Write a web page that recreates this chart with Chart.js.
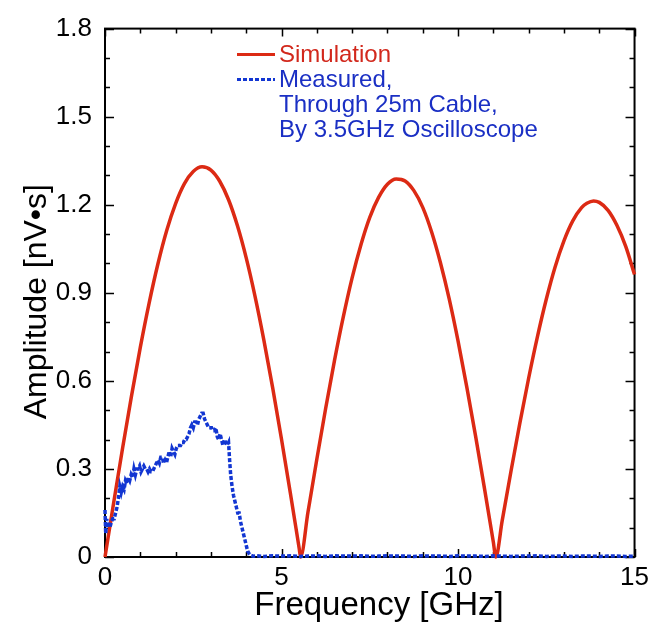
<!DOCTYPE html>
<html>
<head>
<meta charset="utf-8">
<script src="https://cdn.jsdelivr.net/npm/chart.js@4/dist/chart.umd.min.js"></script>
<style>
  body { margin: 0; background: #fff; }
  canvas { display: block; }
</style>
</head>
<body>
<canvas id="myChart" width="654" height="627"></canvas>
<script>
// simulated amplitude [nV*s] vs frequency [GHz]
var simFreq = [0, 0.25, 0.5, 0.75, 1, 1.25, 1.5, 1.75, 2, 2.25, 2.5, 2.75, 3, 3.25, 3.5, 3.75, 4, 4.25, 4.5, 4.75, 5, 5.25, 5.5, 5.54,
  5.75, 6, 6.25, 6.5, 6.75, 7, 7.25, 7.5, 7.75, 8, 8.25, 8.5, 8.75, 9, 9.25, 9.5, 9.75, 10, 10.25, 10.5, 10.75, 11, 11.07,
  11.25, 11.5, 11.75, 12, 12.25, 12.5, 12.75, 13, 13.25, 13.5, 13.65, 13.84, 14, 14.25, 14.5, 14.75, 15];
var simAmp = [0, 0.188, 0.372, 0.548, 0.714, 0.865, 0.999, 1.113, 1.204, 1.272, 1.313, 1.329, 1.318, 1.280, 1.217, 1.129, 1.019, 0.888, 0.739, 0.576, 0.401, 0.218, 0.030, 0,
  0.153, 0.333, 0.506, 0.669, 0.818, 0.951, 1.064, 1.157, 1.225, 1.270, 1.288, 1.281, 1.248, 1.191, 1.108, 1.003, 0.879, 0.736, 0.578, 0.410, 0.233, 0.051, 0,
  0.123, 0.292, 0.455, 0.609, 0.751, 0.878, 0.988, 1.077, 1.145, 1.190, 1.205, 1.213, 1.208, 1.181, 1.130, 1.058, 0.962];

// measured through 25m cable
var measFreq = [0, 0.02, 0.05, 0.08, 0.11, 0.14, 0.18, 0.22, 0.26, 0.30, 0.34, 0.38, 0.42, 0.46, 0.50, 0.54, 0.58, 0.62, 0.66, 0.70,
  0.74, 0.78, 0.82, 0.86, 0.90, 0.94, 0.98, 1.02, 1.06, 1.10, 1.14, 1.18, 1.22, 1.26, 1.30, 1.34, 1.38, 1.42, 1.46, 1.50,
  1.54, 1.58, 1.62, 1.66, 1.70, 1.74, 1.78, 1.82, 1.86, 1.90, 1.94, 1.98, 2.02, 2.06, 2.10, 2.14, 2.18, 2.22, 2.26, 2.30,
  2.34, 2.38, 2.42, 2.46, 2.50, 2.54, 2.58, 2.62, 2.66, 2.70, 2.74, 2.78, 2.82, 2.86, 2.90, 2.94, 2.98, 3.02, 3.06, 3.10,
  3.14, 3.18, 3.22, 3.26, 3.30, 3.34, 3.38, 3.42, 3.46, 3.50, 3.53, 3.56, 3.60, 3.64, 3.68, 3.72, 3.76, 3.80, 3.84, 3.88,
  3.92, 3.96, 4.00, 4.04, 4.08, 4.12, 4.20, 4.30, 4.50, 4.75, 5.00, 5.25, 5.50, 5.75, 6.00, 6.25, 6.50, 6.75, 7.00, 7.25,
  7.50, 7.75, 8.00, 8.25, 8.50, 8.75, 9.00, 9.25, 9.50, 9.75, 10.00, 10.25, 10.50, 10.75, 11.00, 11.25, 11.50, 11.75, 12.00, 12.25,
  12.50, 12.75, 13.00, 13.25, 13.50, 13.75, 14.00, 14.25, 14.50, 14.75, 15.00];
var measAmp = [0.16, 0.08, 0.13, 0.10, 0.12, 0.10, 0.12, 0.13, 0.13, 0.15, 0.17, 0.20, 0.24, 0.22, 0.24, 0.23, 0.26, 0.25, 0.27, 0.26,
  0.28, 0.27, 0.30, 0.28, 0.30, 0.30, 0.31, 0.29, 0.30, 0.31, 0.30, 0.30, 0.29, 0.30, 0.29, 0.29, 0.30, 0.31, 0.32, 0.33,
  0.32, 0.34, 0.34, 0.32, 0.33, 0.32, 0.34, 0.36, 0.34, 0.37, 0.36, 0.35, 0.37, 0.38, 0.38, 0.38, 0.39, 0.39, 0.40, 0.40,
  0.41, 0.42, 0.44, 0.45, 0.44, 0.46, 0.46, 0.45, 0.47, 0.48, 0.49, 0.49, 0.47, 0.46, 0.45, 0.44, 0.44, 0.44, 0.43, 0.43,
  0.44, 0.41, 0.40, 0.42, 0.40, 0.38, 0.40, 0.39, 0.38, 0.39, 0.33, 0.28, 0.24, 0.21, 0.19, 0.17, 0.15, 0.15, 0.12, 0.10,
  0.08, 0.06, 0.04, 0.02, 0.012, 0.006, 0.003, 0.004, 0.002, 0.004, 0.003, 0.004, 0.002, 0.003, 0.004, 0.002, 0.004, 0.003, 0.003, 0.004,
  0.002, 0.003, 0.004, 0.003, 0.003, 0.002, 0.004, 0.003, 0.003, 0.002, 0.004, 0.003, 0.003, 0.002, 0.004, 0.003, 0.002, 0.003, 0.003, 0.004,
  0.002, 0.003, 0.003, 0.002, 0.003, 0.003, 0.002, 0.003, 0.003, 0.002, 0.003];

var xTicksMajor = [0, 5, 10, 15];
var yTicksMajor = [0, 0.3, 0.6, 0.9, 1.2, 1.5, 1.8];

var legendLines = ["Simulation", "Measured,", "Through 25m Cable,", "By 3.5GHz Oscilloscope"];

var RED = '#dc2a14';
var BLUE = '#1236d2';
var FONT = "'Liberation Sans', Arial, Helvetica, sans-serif";

function pts(xs, ys) {
  return xs.map(function (x, i) { return { x: x, y: ys[i] }; });
}

function isMajor(v, list) {
  return list.some(function (m) { return Math.abs(m - v) < 1e-6; });
}

// inward ticks on all four sides + frame (under the data)
var framePlugin = {
  id: 'frame',
  beforeDatasetsDraw: function (chart) {
    var ctx = chart.ctx;
    var a = chart.chartArea;
    var xs = chart.scales.x, ys = chart.scales.y;
    ctx.save();
    ctx.strokeStyle = '#000';
    ctx.lineWidth = 1.5;
    xs.ticks.forEach(function (t) {
      var px = Math.round(xs.getPixelForValue(t.value)) + 0.5;
      var len = isMajor(t.value, xTicksMajor) ? 8 : 5;
      ctx.beginPath();
      ctx.moveTo(px, a.bottom); ctx.lineTo(px, a.bottom - len);
      ctx.moveTo(px, a.top); ctx.lineTo(px, a.top + len);
      ctx.stroke();
    });
    ys.ticks.forEach(function (t) {
      var py = Math.round(ys.getPixelForValue(t.value)) + 0.5;
      var len = isMajor(t.value, yTicksMajor) ? 9 : 5;
      ctx.beginPath();
      ctx.moveTo(a.left, py); ctx.lineTo(a.left + len, py);
      ctx.moveTo(a.right, py); ctx.lineTo(a.right - len, py);
      ctx.stroke();
    });
    ctx.lineWidth = 2;
    ctx.strokeRect(a.left, a.top, a.right - a.left, a.bottom - a.top);
    ctx.restore();
  },
  // legend block inside the plot
  afterDraw: function (chart) {
    var ctx = chart.ctx;
    var a = chart.chartArea;
    var lx = a.left + 132, tx = a.left + 174, ly = a.top + 26, step = 25;
    ctx.save();
    ctx.font = '24px ' + FONT;
    ctx.textBaseline = 'middle';
    ctx.textAlign = 'left';
    ctx.lineWidth = 3;
    ctx.strokeStyle = RED;
    ctx.beginPath(); ctx.moveTo(lx, ly); ctx.lineTo(lx + 38, ly); ctx.stroke();
    ctx.fillStyle = '#d2281c';
    ctx.fillText(legendLines[0], tx, ly + 1);
    ctx.strokeStyle = BLUE;
    ctx.setLineDash([4, 2]);
    ctx.beginPath(); ctx.moveTo(lx, ly + step); ctx.lineTo(lx + 38, ly + step); ctx.stroke();
    ctx.setLineDash([]);
    ctx.fillStyle = '#1a2fc4';
    for (var i = 1; i < legendLines.length; i++) {
      ctx.fillText(legendLines[i], tx, ly + step * i + 1);
    }
    ctx.restore();
  }
};

var myChart = new Chart(document.getElementById('myChart'), {
  type: 'line',
  data: {
    datasets: [
      {
        label: 'Measured',
        data: pts(measFreq, measAmp),
        borderColor: BLUE,
        borderWidth: 3.5,
        borderDash: [4, 2],
        pointRadius: 0,
        tension: 0,
        fill: false,
        clip: 4,
        order: 0
      },
      {
        label: 'Simulation',
        data: pts(simFreq, simAmp),
        borderColor: RED,
        borderWidth: 3.5,
        pointRadius: 0,
        cubicInterpolationMode: 'monotone',
        fill: false,
        clip: 4,
        order: 1
      }
    ]
  },
  options: {
    responsive: false,
    animation: false,
    devicePixelRatio: 1,
    layout: { padding: { top: 26, right: 17, left: 0, bottom: 0 } },
    plugins: {
      legend: { display: false },
      tooltip: { enabled: false }
    },
    scales: {
      x: {
        type: 'linear',
        min: 0,
        max: 15,
        grid: { display: false, drawTicks: false },
        border: { display: false },
        ticks: {
          stepSize: 1,
          autoSkip: false,
          maxRotation: 0,
          padding: 5,
          color: '#000',
          font: { family: FONT, size: 26 },
          callback: function (v) { return isMajor(v, xTicksMajor) ? String(v) : ''; }
        },
        title: {
          display: true,
          text: '  Frequency [GHz]',
          color: '#000',
          font: { family: FONT, size: 33, lineHeight: 1.2 },
          padding: { top: 0, bottom: 1 }
        },
        afterFit: function (s) { s.height = 70; }
      },
      y: {
        min: 0,
        max: 1.8,
        grid: { display: false, drawTicks: false },
        border: { display: false },
        ticks: {
          stepSize: 0.1,
          autoSkip: false,
          padding: 13,
          color: '#000',
          font: { family: FONT, size: 26 },
          callback: function (v) {
            if (!isMajor(v, yTicksMajor)) return '';
            return Math.abs(v) < 1e-6 ? '0' : v.toFixed(1);
          }
        },
        title: {
          display: true,
          text: 'Amplitude [nV\u2022s]  ',
          color: '#000',
          font: { family: FONT, size: 32, lineHeight: 1.2 },
          padding: { top: 18, bottom: 0 }
        },
        afterFit: function (s) { s.width = 105; }
      }
    }
  },
  plugins: [framePlugin]
});
</script>
</body>
</html>
